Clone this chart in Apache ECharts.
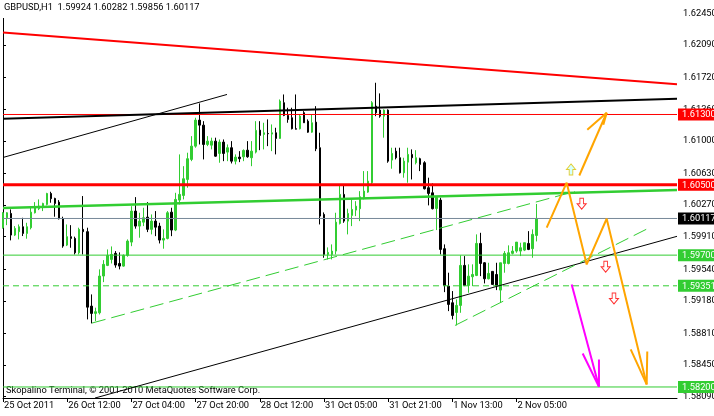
<!DOCTYPE html>
<html><head><meta charset="utf-8">
<script src="https://cdn.jsdelivr.net/npm/echarts@6/dist/echarts.min.js"></script>
<style>html,body{margin:0;padding:0;background:#fff}#c{width:714px;height:416px}</style>
</head><body><div id="c"></div>
<script>
// ---------- data ----------
const chartTitle = 'GBPUSD,H1  1.59924 1.60282 1.59856 1.60117';
const copyrightText = 'Skopalino Terminal, \u00a9 2001-2010 MetaQuotes Software Corp.';
const xTickLabels = ['25 Oct 2011','26 Oct 12:00','27 Oct 04:00','27 Oct 20:00','28 Oct 12:00','31 Oct 05:00','31 Oct 21:00','1 Nov 13:00','2 Nov 05:00'];
const barsPerXLabel = 16;
const totalBarSlots = 169;
const yTickValues = [1.58090,1.58450,1.58810,1.59180,1.59540,1.59910,1.60270,1.60630,1.61000,1.61360,1.61720,1.62090,1.62450];
const priceMin = 1.580745, priceMax = 1.625685;

// [open, close, low, high]
const ohlc = [
[1.60012,1.60182,1.60001,1.60189],[1.60125,1.60182,1.60041,1.60189],[1.60174,1.59928,1.59868,1.60220],[1.59928,1.60004,1.59917,1.60030],
[1.59967,1.60023,1.59879,1.60049],[1.60023,1.59947,1.59917,1.60125],[1.59947,1.60023,1.59887,1.60068],[1.60012,1.60189,1.59993,1.60239],
[1.60182,1.60251,1.60174,1.60303],[1.60228,1.60258,1.60212,1.60334],[1.60251,1.60288,1.60201,1.60296],[1.60277,1.60401,1.60266,1.60409],
[1.60401,1.60342,1.60296,1.60421],[1.60345,1.60288,1.60137,1.60353],[1.60303,1.60114,1.60106,1.60326],[1.60114,1.59803,1.59784,1.60137],
[1.59814,1.59910,1.59803,1.60049],[1.59910,1.59890,1.59784,1.60041],[1.59890,1.59727,1.59708,1.59910],[1.59727,1.59993,1.59708,1.60012],
[1.59993,1.59967,1.59708,1.60372],[1.59967,1.59108,1.58969,1.60012],[1.59120,1.59037,1.58923,1.59253],[1.59037,1.59056,1.58950,1.59102],
[1.59044,1.59462,1.59025,1.59538],[1.59462,1.59595,1.59393,1.59643],[1.59583,1.59697,1.59575,1.59765],[1.59651,1.59708,1.59605,1.59799],
[1.59720,1.59587,1.59557,1.59746],[1.59605,1.59575,1.59538,1.59731],[1.59575,1.59697,1.59568,1.59708],[1.59697,1.59860,1.59682,1.59879],
[1.59848,1.60201,1.59802,1.60257],[1.60201,1.60030,1.60001,1.60360],[1.60030,1.60087,1.59898,1.60182],[1.60075,1.60125,1.60030,1.60239],
[1.60132,1.59993,1.59962,1.60303],[1.59993,1.60087,1.59936,1.60163],[1.60087,1.60018,1.59916,1.60201],[1.60030,1.59871,1.59833,1.60068],
[1.59871,1.59890,1.59773,1.59993],[1.59890,1.60182,1.59879,1.60201],[1.60189,1.59985,1.59916,1.60239],[1.59985,1.60334,1.59973,1.60409],
[1.60326,1.60391,1.60277,1.60846],[1.60379,1.60569,1.60334,1.60712],[1.60561,1.60797,1.60467,1.60865],[1.60789,1.60940,1.60769,1.61054],
[1.60940,1.61236,1.60922,1.61263],[1.61236,1.61179,1.60959,1.61426],[1.61179,1.60959,1.60789,1.61224],[1.60959,1.60997,1.60940,1.61054],
[1.60951,1.60997,1.60903,1.61036],[1.60997,1.60826,1.60819,1.61036],[1.60857,1.60986,1.60751,1.61016],[1.60986,1.60857,1.60769,1.61016],
[1.60872,1.60922,1.60769,1.60959],[1.60922,1.60769,1.60743,1.60997],[1.60769,1.60815,1.60732,1.60846],[1.60815,1.60797,1.60758,1.60883],
[1.60819,1.60891,1.60769,1.60903],[1.60894,1.60819,1.60808,1.60997],[1.60808,1.60883,1.60712,1.60997],[1.60872,1.61119,1.60857,1.61224],
[1.61122,1.61062,1.60894,1.61224],[1.61073,1.61092,1.60903,1.61206],[1.61084,1.61081,1.60940,1.61244],[1.61077,1.61092,1.60883,1.61187],
[1.61092,1.61028,1.60846,1.61149],[1.61028,1.61452,1.61024,1.61471],[1.61434,1.61289,1.61281,1.61528],[1.61289,1.61244,1.61206,1.61377],
[1.61263,1.61138,1.61130,1.61377],[1.61138,1.61133,1.61130,1.61528],[1.61138,1.61281,1.61130,1.61301],[1.61320,1.61206,1.61206,1.61338],
[1.61224,1.61099,1.61092,1.61244],[1.61099,1.61206,1.61092,1.61301],[1.61213,1.60910,1.60883,1.61395],[1.60922,1.60144,1.60049,1.61092],
[1.60163,1.59708,1.59670,1.60186],[1.59708,1.59731,1.59651,1.59788],[1.59708,1.59746,1.59651,1.59822],[1.59746,1.60075,1.59708,1.60182],
[1.60061,1.60391,1.60049,1.60504],[1.60391,1.60087,1.60068,1.60504],[1.60087,1.60174,1.59936,1.60228],[1.60152,1.60220,1.60030,1.60334],
[1.60212,1.60257,1.60144,1.60314],[1.60228,1.60364,1.60087,1.60428],[1.60353,1.60428,1.60334,1.60656],[1.60417,1.60542,1.60409,1.60656],
[1.60524,1.61434,1.60504,1.61452],[1.61395,1.61320,1.61281,1.61661],[1.61350,1.61281,1.61263,1.61540],[1.61281,1.61350,1.61036,1.61358],
[1.61350,1.60769,1.60751,1.61358],[1.60781,1.60857,1.60683,1.60922],[1.60883,1.60808,1.60789,1.60922],[1.60808,1.60637,1.60629,1.60922],
[1.60637,1.60769,1.60581,1.60808],[1.60758,1.60846,1.60524,1.60922],[1.60846,1.60808,1.60561,1.60903],[1.60751,1.60808,1.60732,1.60894],
[1.60797,1.60732,1.60656,1.60808],[1.60751,1.60455,1.60447,1.60769],[1.60467,1.60402,1.60266,1.60581],[1.60409,1.60228,1.60220,1.60516],
[1.60231,1.60356,1.59985,1.60371],[1.60326,1.59765,1.59708,1.60353],[1.59773,1.59355,1.59279,1.59822],[1.59347,1.59139,1.59063,1.59500],
[1.59158,1.59014,1.58969,1.59291],[1.59048,1.59128,1.58900,1.59196],[1.59128,1.59583,1.59044,1.59697],[1.59583,1.59355,1.59347,1.59689],
[1.59355,1.59461,1.59272,1.59595],[1.59454,1.59480,1.59347,1.59595],[1.59469,1.59833,1.59461,1.59936],[1.59833,1.59605,1.59461,1.59954],
[1.59613,1.59431,1.59378,1.59620],[1.59431,1.59492,1.59424,1.59613],[1.59515,1.59367,1.59367,1.59518],[1.59480,1.59355,1.59302,1.59613],
[1.59302,1.59613,1.59158,1.59613],[1.59605,1.59720,1.59500,1.59746],[1.59605,1.59727,1.59595,1.59811],[1.59720,1.59746,1.59708,1.59803],
[1.59746,1.59848,1.59727,1.59848],[1.59746,1.59784,1.59689,1.59841],[1.59757,1.59841,1.59746,1.59841],[1.59833,1.59765,1.59757,1.59973],
[1.59773,1.59936,1.59670,1.59993],[1.59924,1.60117,1.59856,1.60282]
];

// horizontal levels (price) and their right-side tags
const levelPrices = [1.61300, 1.60500, 1.60117, 1.59700, 1.59351, 1.58200];

// drawn objects, in [bar index, price]
const redTrend = [[0,1.62234],[168,1.61644]];
const blackTrend = [[0,1.61251],[168,1.61479]];
const blackChannelUpper = [[0,1.60811],[55.83,1.61528]];
const blackChannelLower = [[22.93,1.58074],[168,1.59914]];
const greenTrend = [[0,1.60237],[168,1.60442]];
const greenDashA = [[22.18,1.58927],[142.57,1.60425]];
const greenDashB = [[112.66,1.58900],[161.27,1.60015]];
const orangeForecast = [[135.52,1.60012],[140.50,1.60524],[145.49,1.59594],[150.47,1.60114],[160.44,1.58229]];
const orangeForecastHead = [[156.46,1.58628],[160.44,1.58229],[160.59,1.58603]];
const orangeUp = [[143.64,1.60606],[150.47,1.61320]];
const orangeUpHead = [[145.64,1.61127],[150.47,1.61320],[149.63,1.61183]];
const magentaDown = [[141.75,1.59367],[148.55,1.58203]];
const magentaDownHead = [[144.49,1.58581],[148.55,1.58203],[148.55,1.58513]];
const upArrowMarks = [[141.58,1.60675]];
const downArrowMarks = [[144.24,1.60285],[150.22,1.59568],[152.29,1.59207]];

// ---------- styles ----------
const FONT = 'Roboto';
const FS = 9.3;
const levelStyles = [
  {color:'#FF0000', width:1, type:'solid', bg:'#FF0000'},
  {color:'#FF0000', width:3, type:'solid', bg:'#FF0000'},
  {color:'#778899', width:1, type:'solid', bg:'#000000'},
  {color:'#32CD32', width:1, type:'solid', bg:'#32CD32'},
  {color:'#32CD32', width:1, type:[6,4], bg:'#32CD32'},
  {color:'#32CD32', width:1, type:'solid', bg:'#32CD32'}
];

const categories = [];
for (let i = 0; i < totalBarSlots; i++) categories.push(String(i));
const showXLabel = (idx) => idx % barsPerXLabel === 0 && idx / barsPerXLabel < xTickLabels.length;

function lineSeries(data, color, width, type, z) {
  return {type:'line', xAxisIndex:1, yAxisIndex:0, data, symbol:'none', silent:true,
    lineStyle:{color, width, type: type || 'solid'}, z: z || 3, animation:false, clip:true};
}

const upPath = 'path://M5 0 L10 6 L7 6 L7 12 L3 12 L3 6 L0 6 Z';
const downPath = 'path://M3 0 L7 0 L7 6 L10 6 L5 12 L0 6 L3 6 Z';

const tagRich = {};
levelStyles.forEach((s, k) => {
  tagRich['t' + k] = {backgroundColor:s.bg, color:'#fff', padding:[2,6,1,4], fontFamily:FONT, fontSize:FS, lineHeight:10};
});

const levelSeries = levelPrices.map((p, k) =>
  lineSeries([[0, p], [totalBarSlots - 1, p]], levelStyles[k].color, levelStyles[k].width, levelStyles[k].type, 3));

const option = {
  animation:false,
  backgroundColor:'#ffffff',
  title:[
    {text: chartTitle, left:0, top:0, padding:[2,2,5,4], backgroundColor:'#ffffff', z:10,
     textStyle:{fontFamily:FONT, fontSize:FS, fontWeight:'normal', color:'#000', lineHeight:11}},
    {text: copyrightText, left:2, top:385, padding:[0,0,0,4], z:0,
     textStyle:{fontFamily:FONT, fontSize:FS, fontWeight:'normal', color:'#000', lineHeight:11}}
  ],
  grid:{left:3, top:3, right:37, bottom:18, show:false, containLabel:false, outerBoundsMode:'none'},
  xAxis:[
    {type:'category', data:categories, boundaryGap:false,
     axisLine:{show:true, lineStyle:{color:'#000', width:1}},
     axisTick:{show:true, length:4, interval:(idx)=>showXLabel(idx), lineStyle:{color:'#000'}},
     axisLabel:{show:true, interval:(idx)=>showXLabel(idx), align:'left', margin:3,
       formatter:(v, idx)=> showXLabel(idx) ? xTickLabels[idx / barsPerXLabel] : '',
       fontFamily:FONT, fontSize:FS, color:'#000', padding:[0,0,0,1]},
     splitLine:{show:false}},
    {type:'value', min:0, max:totalBarSlots-1, show:false}
  ],
  yAxis:[
    {type:'value', position:'right', min:priceMin, max:priceMax, scale:true,
     axisLine:{show:true, lineStyle:{color:'#000', width:1}},
     axisTick:{show:true, length:3, customValues:yTickValues, lineStyle:{color:'#000'}},
     axisLabel:{show:true, customValues:yTickValues, margin:6, formatter:(v)=>v.toFixed(5),
       fontFamily:FONT, fontSize:FS, color:'#000'},
     splitLine:{show:false}},
    {type:'value', position:'left', min:priceMin, max:priceMax, scale:true,
     axisLine:{show:true, lineStyle:{color:'#000', width:1}},
     axisTick:{show:false}, axisLabel:{show:false}, splitLine:{show:false}},
    {type:'value', position:'right', min:priceMin, max:priceMax, scale:true, z:5,
     axisLine:{show:false}, axisTick:{show:false}, splitLine:{show:false},
     axisLabel:{show:true, customValues:levelPrices, margin:1,
       formatter:(v)=>{ const k = levelPrices.findIndex(p => Math.abs(p - v) < 1e-7); return '{t' + k + '|' + v.toFixed(5) + '}'; },
       rich:tagRich}}
  ],
  series:[
    {type:'candlestick', xAxisIndex:0, yAxisIndex:0, data:ohlc, barWidth:2, z:2, silent:true,
     itemStyle:{color:'#32CD32', color0:'#000000', borderColor:'#32CD32', borderColor0:'#000000', borderWidth:1}},
    ...levelSeries,
    lineSeries(redTrend, '#FF0000', 2),
    lineSeries(blackTrend, '#000000', 2),
    lineSeries(blackChannelUpper, '#000000', 1),
    lineSeries(blackChannelLower, '#000000', 1),
    lineSeries(greenTrend, '#32CD32', 2.5),
    lineSeries(greenDashA, '#32CD32', 1, [14,6]),
    lineSeries(greenDashB, '#32CD32', 1, [14,6]),
    lineSeries(orangeForecast, '#FFA500', 2, 'solid', 5),
    lineSeries(orangeForecastHead, '#FFA500', 2, 'solid', 5),
    lineSeries(orangeUp, '#FFA500', 2, 'solid', 5),
    lineSeries(orangeUpHead, '#FFA500', 2, 'solid', 5),
    lineSeries(magentaDown, '#FF00FF', 2, 'solid', 5),
    lineSeries(magentaDownHead, '#FF00FF', 2, 'solid', 5),
    {type:'scatter', xAxisIndex:1, yAxisIndex:0, data:upArrowMarks, symbol:upPath, symbolSize:[9,11], z:6, silent:true,
     itemStyle:{color:'#C8FFFF', borderColor:'#E0C000', borderWidth:1}},
    {type:'scatter', xAxisIndex:1, yAxisIndex:0, data:downArrowMarks, symbol:downPath, symbolSize:[9,11], z:6, silent:true,
     itemStyle:{color:'#FFFFFF', borderColor:'#FF0000', borderWidth:1}}
  ]
};
const chart = echarts.init(document.getElementById('c'), null, {renderer:'canvas'});
chart.setOption(option);
</script></body></html>
